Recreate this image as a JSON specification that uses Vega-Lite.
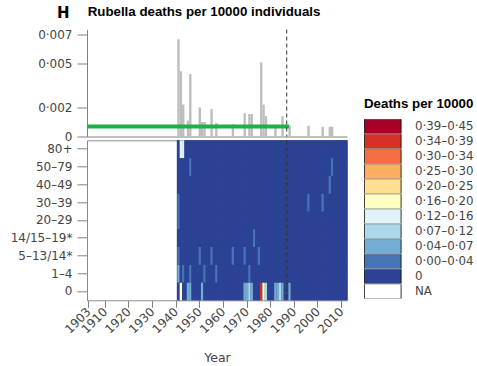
{
  "$schema": "https://vega.github.io/schema/vega-lite/v6.json",
  "padding": {"left": 0, "top": 4.5, "right": 0, "bottom": 0},
  "bounds": "flush",
  "spacing": 3.8,
  "datasets": {
    "bars": [
      {"year": 1941, "rate": 0.0067}, {"year": 1942, "rate": 0.0045}, {"year": 1943, "rate": 0.0022},
      {"year": 1945, "rate": 0.0011}, {"year": 1946, "rate": 0.0043}, {"year": 1950, "rate": 0.0020},
      {"year": 1951, "rate": 0.0010}, {"year": 1952, "rate": 0.0010}, {"year": 1955, "rate": 0.0019},
      {"year": 1957, "rate": 0.00093}, {"year": 1964, "rate": 0.00085}, {"year": 1969, "rate": 0.0016},
      {"year": 1971, "rate": 0.00155}, {"year": 1972, "rate": 0.00155}, {"year": 1976, "rate": 0.0051},
      {"year": 1977, "rate": 0.0022}, {"year": 1978, "rate": 0.0014}, {"year": 1982, "rate": 0.0007},
      {"year": 1985, "rate": 0.0014}, {"year": 1988, "rate": 0.00075}, {"year": 1996, "rate": 0.00074},
      {"year": 2002, "rate": 0.00067}, {"year": 2005, "rate": 0.00067}, {"year": 2006, "rate": 0.00067}
    ],
    "period": [{"from": 1902.5, "to": 1988, "mean": 0.000688}],
    "observed": [{"from": 1940.5, "to": 2012.5}],
    "vacc": [{"year": 1987}],
    "classes": [
      {"code": 10, "label": "0·39–0·45"}, {"code": 9, "label": "0·34–0·39"}, {"code": 8, "label": "0·30–0·34"},
      {"code": 7, "label": "0·25–0·30"}, {"code": 6, "label": "0·20–0·25"}, {"code": 5, "label": "0·16–0·20"},
      {"code": 4, "label": "0·12–0·16"}, {"code": 3, "label": "0·07–0·12"}, {"code": 2, "label": "0·04–0·07"},
      {"code": 1, "label": "0·00–0·04"}, {"code": 0, "label": "0"}, {"code": -1, "label": "NA"}
    ],
    "ages": [
      {"key": "a0", "age": "0"}, {"key": "a1", "age": "1–4"}, {"key": "a5", "age": "5–13/14*"},
      {"key": "a14", "age": "14/15–19*"}, {"key": "a20", "age": "20–29"}, {"key": "a30", "age": "30–39"},
      {"key": "a40", "age": "40–49"}, {"key": "a50", "age": "50–79"}, {"key": "a80", "age": "80+"}
    ],
    "cells": [
      {"year": 1941, "a0": 0, "a1": 2, "a5": 1, "a14": 0, "a20": 1, "a30": 1, "a40": 0, "a50": 0, "a80": 0},
      {"year": 1942, "a0": 5, "a1": 0, "a5": 0, "a14": 0, "a20": 0, "a30": 0, "a40": 0, "a50": 0, "a80": 4},
      {"year": 1943, "a0": 0, "a1": 1, "a5": 0, "a14": 0, "a20": 0, "a30": 0, "a40": 0, "a50": 0, "a80": 4},
      {"year": 1944, "a0": 0, "a1": 0, "a5": 0, "a14": 0, "a20": 0, "a30": 0, "a40": 0, "a50": 0, "a80": 0},
      {"year": 1945, "a0": 2, "a1": 0, "a5": 0, "a14": 0, "a20": 0, "a30": 0, "a40": 0, "a50": 0, "a80": 0},
      {"year": 1946, "a0": 2, "a1": 1, "a5": 0, "a14": 0, "a20": 0, "a30": 0, "a40": 0, "a50": 1, "a80": 0},
      {"year": 1947, "a0": 0, "a1": 0, "a5": 0, "a14": 0, "a20": 0, "a30": 0, "a40": 0, "a50": 0, "a80": 0},
      {"year": 1948, "a0": 0, "a1": 0, "a5": 0, "a14": 0, "a20": 0, "a30": 0, "a40": 0, "a50": 0, "a80": 0},
      {"year": 1949, "a0": 0, "a1": 0, "a5": 0, "a14": 0, "a20": 0, "a30": 0, "a40": 0, "a50": 0, "a80": 0},
      {"year": 1950, "a0": 0, "a1": 0, "a5": 1, "a14": 0, "a20": 0, "a30": 0, "a40": 0, "a50": 0, "a80": 0},
      {"year": 1951, "a0": 2, "a1": 0, "a5": 0, "a14": 0, "a20": 0, "a30": 0, "a40": 0, "a50": 0, "a80": 0},
      {"year": 1952, "a0": 0, "a1": 1, "a5": 0, "a14": 0, "a20": 0, "a30": 0, "a40": 0, "a50": 0, "a80": 0},
      {"year": 1953, "a0": 0, "a1": 0, "a5": 0, "a14": 0, "a20": 0, "a30": 0, "a40": 0, "a50": 0, "a80": 0},
      {"year": 1954, "a0": 0, "a1": 0, "a5": 0, "a14": 0, "a20": 0, "a30": 0, "a40": 0, "a50": 0, "a80": 0},
      {"year": 1955, "a0": 0, "a1": 0, "a5": 1, "a14": 0, "a20": 0, "a30": 0, "a40": 0, "a50": 0, "a80": 0},
      {"year": 1956, "a0": 0, "a1": 0, "a5": 0, "a14": 0, "a20": 0, "a30": 0, "a40": 0, "a50": 0, "a80": 0},
      {"year": 1957, "a0": 0, "a1": 1, "a5": 0, "a14": 0, "a20": 0, "a30": 0, "a40": 0, "a50": 0, "a80": 0},
      {"year": 1958, "a0": 0, "a1": 0, "a5": 0, "a14": 0, "a20": 0, "a30": 0, "a40": 0, "a50": 0, "a80": 0},
      {"year": 1959, "a0": 0, "a1": 0, "a5": 0, "a14": 0, "a20": 0, "a30": 0, "a40": 0, "a50": 0, "a80": 0},
      {"year": 1960, "a0": 0, "a1": 0, "a5": 0, "a14": 0, "a20": 0, "a30": 0, "a40": 0, "a50": 0, "a80": 0},
      {"year": 1961, "a0": 0, "a1": 0, "a5": 0, "a14": 0, "a20": 0, "a30": 0, "a40": 0, "a50": 0, "a80": 0},
      {"year": 1962, "a0": 0, "a1": 0, "a5": 0, "a14": 0, "a20": 0, "a30": 0, "a40": 0, "a50": 0, "a80": 0},
      {"year": 1963, "a0": 0, "a1": 0, "a5": 0, "a14": 0, "a20": 0, "a30": 0, "a40": 0, "a50": 0, "a80": 0},
      {"year": 1964, "a0": 0, "a1": 0, "a5": 1, "a14": 0, "a20": 0, "a30": 0, "a40": 0, "a50": 0, "a80": 0},
      {"year": 1965, "a0": 0, "a1": 0, "a5": 0, "a14": 0, "a20": 0, "a30": 0, "a40": 0, "a50": 0, "a80": 0},
      {"year": 1966, "a0": 0, "a1": 0, "a5": 0, "a14": 0, "a20": 0, "a30": 0, "a40": 0, "a50": 0, "a80": 0},
      {"year": 1967, "a0": 0, "a1": 0, "a5": 0, "a14": 0, "a20": 0, "a30": 0, "a40": 0, "a50": 0, "a80": 0},
      {"year": 1968, "a0": 0, "a1": 0, "a5": 0, "a14": 0, "a20": 0, "a30": 0, "a40": 0, "a50": 0, "a80": 0},
      {"year": 1969, "a0": 2, "a1": 0, "a5": 1, "a14": 0, "a20": 0, "a30": 0, "a40": 0, "a50": 0, "a80": 0},
      {"year": 1970, "a0": 2, "a1": 0, "a5": 0, "a14": 0, "a20": 0, "a30": 0, "a40": 0, "a50": 0, "a80": 0},
      {"year": 1971, "a0": 3, "a1": 1, "a5": 0, "a14": 0, "a20": 0, "a30": 0, "a40": 0, "a50": 0, "a80": 0},
      {"year": 1972, "a0": 2, "a1": 0, "a5": 0, "a14": 0, "a20": 0, "a30": 0, "a40": 0, "a50": 0, "a80": 0},
      {"year": 1973, "a0": 0, "a1": 0, "a5": 0, "a14": 1, "a20": 0, "a30": 0, "a40": 0, "a50": 0, "a80": 0},
      {"year": 1974, "a0": 0, "a1": 0, "a5": 0, "a14": 0, "a20": 0, "a30": 0, "a40": 0, "a50": 0, "a80": 0},
      {"year": 1975, "a0": 0, "a1": 0, "a5": 1, "a14": 0, "a20": 0, "a30": 0, "a40": 0, "a50": 0, "a80": 0},
      {"year": 1976, "a0": 9, "a1": 0, "a5": 0, "a14": 0, "a20": 0, "a30": 0, "a40": 0, "a50": 0, "a80": 0},
      {"year": 1977, "a0": 5, "a1": 0, "a5": 0, "a14": 0, "a20": 0, "a30": 0, "a40": 0, "a50": 0, "a80": 0},
      {"year": 1978, "a0": 3, "a1": 0, "a5": 0, "a14": 0, "a20": 0, "a30": 0, "a40": 0, "a50": 0, "a80": 0},
      {"year": 1979, "a0": 0, "a1": 0, "a5": 0, "a14": 0, "a20": 0, "a30": 0, "a40": 0, "a50": 0, "a80": 0},
      {"year": 1980, "a0": 0, "a1": 0, "a5": 0, "a14": 0, "a20": 0, "a30": 0, "a40": 0, "a50": 0, "a80": 0},
      {"year": 1981, "a0": 0, "a1": 0, "a5": 0, "a14": 0, "a20": 0, "a30": 0, "a40": 0, "a50": 0, "a80": 0},
      {"year": 1982, "a0": 2, "a1": 0, "a5": 0, "a14": 0, "a20": 0, "a30": 0, "a40": 0, "a50": 0, "a80": 0},
      {"year": 1983, "a0": 2, "a1": 0, "a5": 0, "a14": 0, "a20": 0, "a30": 0, "a40": 0, "a50": 0, "a80": 0},
      {"year": 1984, "a0": 3, "a1": 0, "a5": 0, "a14": 0, "a20": 0, "a30": 0, "a40": 0, "a50": 0, "a80": 0},
      {"year": 1985, "a0": 2, "a1": 0, "a5": 0, "a14": 0, "a20": 0, "a30": 0, "a40": 0, "a50": 0, "a80": 0},
      {"year": 1986, "a0": 0, "a1": 0, "a5": 0, "a14": 0, "a20": 0, "a30": 0, "a40": 0, "a50": 0, "a80": 0},
      {"year": 1987, "a0": 0, "a1": 0, "a5": 0, "a14": 0, "a20": 0, "a30": 0, "a40": 0, "a50": 0, "a80": 0},
      {"year": 1988, "a0": 2, "a1": 0, "a5": 0, "a14": 0, "a20": 0, "a30": 0, "a40": 0, "a50": 0, "a80": 0},
      {"year": 1989, "a0": 0, "a1": 0, "a5": 0, "a14": 0, "a20": 0, "a30": 0, "a40": 0, "a50": 0, "a80": 0},
      {"year": 1990, "a0": 0, "a1": 0, "a5": 0, "a14": 0, "a20": 0, "a30": 0, "a40": 0, "a50": 0, "a80": 0},
      {"year": 1991, "a0": 0, "a1": 0, "a5": 0, "a14": 0, "a20": 0, "a30": 0, "a40": 0, "a50": 0, "a80": 0},
      {"year": 1992, "a0": 0, "a1": 0, "a5": 0, "a14": 0, "a20": 0, "a30": 0, "a40": 0, "a50": 0, "a80": 0},
      {"year": 1993, "a0": 0, "a1": 0, "a5": 0, "a14": 0, "a20": 0, "a30": 0, "a40": 0, "a50": 0, "a80": 0},
      {"year": 1994, "a0": 0, "a1": 0, "a5": 0, "a14": 0, "a20": 0, "a30": 0, "a40": 0, "a50": 0, "a80": 0},
      {"year": 1995, "a0": 0, "a1": 0, "a5": 0, "a14": 0, "a20": 0, "a30": 0, "a40": 0, "a50": 0, "a80": 0},
      {"year": 1996, "a0": 0, "a1": 0, "a5": 0, "a14": 0, "a20": 0, "a30": 1, "a40": 0, "a50": 0, "a80": 0},
      {"year": 1997, "a0": 0, "a1": 0, "a5": 0, "a14": 0, "a20": 0, "a30": 0, "a40": 0, "a50": 0, "a80": 0},
      {"year": 1998, "a0": 0, "a1": 0, "a5": 0, "a14": 0, "a20": 0, "a30": 0, "a40": 0, "a50": 0, "a80": 0},
      {"year": 1999, "a0": 0, "a1": 0, "a5": 0, "a14": 0, "a20": 0, "a30": 0, "a40": 0, "a50": 0, "a80": 0},
      {"year": 2000, "a0": 0, "a1": 0, "a5": 0, "a14": 0, "a20": 0, "a30": 0, "a40": 0, "a50": 0, "a80": 0},
      {"year": 2001, "a0": 0, "a1": 0, "a5": 0, "a14": 0, "a20": 0, "a30": 0, "a40": 0, "a50": 0, "a80": 0},
      {"year": 2002, "a0": 0, "a1": 0, "a5": 0, "a14": 0, "a20": 0, "a30": 1, "a40": 0, "a50": 0, "a80": 0},
      {"year": 2003, "a0": 0, "a1": 0, "a5": 0, "a14": 0, "a20": 0, "a30": 0, "a40": 0, "a50": 0, "a80": 0},
      {"year": 2004, "a0": 0, "a1": 0, "a5": 0, "a14": 0, "a20": 0, "a30": 0, "a40": 0, "a50": 0, "a80": 0},
      {"year": 2005, "a0": 0, "a1": 0, "a5": 0, "a14": 0, "a20": 0, "a30": 0, "a40": 1, "a50": 0, "a80": 0},
      {"year": 2006, "a0": 0, "a1": 0, "a5": 0, "a14": 0, "a20": 0, "a30": 0, "a40": 0, "a50": 1, "a80": 0},
      {"year": 2007, "a0": 0, "a1": 0, "a5": 0, "a14": 0, "a20": 0, "a30": 0, "a40": 0, "a50": 0, "a80": 0},
      {"year": 2008, "a0": 0, "a1": 0, "a5": 0, "a14": 0, "a20": 0, "a30": 0, "a40": 0, "a50": 0, "a80": 0},
      {"year": 2009, "a0": 0, "a1": 0, "a5": 0, "a14": 0, "a20": 0, "a30": 0, "a40": 0, "a50": 0, "a80": 0},
      {"year": 2010, "a0": 0, "a1": 0, "a5": 0, "a14": 0, "a20": 0, "a30": 0, "a40": 0, "a50": 0, "a80": 0},
      {"year": 2011, "a0": 0, "a1": 0, "a5": 0, "a14": 0, "a20": 0, "a30": 0, "a40": 0, "a50": 0, "a80": 0},
      {"year": 2012, "a0": 0, "a1": 0, "a5": 0, "a14": 0, "a20": 0, "a30": 0, "a40": 0, "a50": 0, "a80": 0}
    ]
  },
  "vconcat": [
    {
      "width": 260,
      "height": 107,
      "view": {"stroke": null},
      "title": {
        "text": "H",
        "subtitle": "\u200b\u00a0\u00a0\u00a0\u00a0\u00a0\u00a0\u00a0\u00a0\u200aRubella deaths per 10000 individuals",
        "anchor": "start",
        "frame": "group",
        "dx": -30,
        "offset": 6.2,
        "font": "DejaVu Sans",
        "fontSize": 15,
        "fontWeight": "bold",
        "color": "#000",
        "subtitleFont": "Liberation Sans",
        "subtitleFontSize": 13.3,
        "subtitleFontWeight": "bold",
        "subtitleColor": "#000",
        "subtitlePadding": -16.4
      },
      "layer": [
        {
          "data": {"name": "bars"},
          "mark": {"type": "bar", "color": "#bdbdbd", "binSpacing": 0},
          "encoding": {
            "x": {
              "field": "year", "type": "quantitative",
              "bin": {"step": 1, "extent": [1902.5, 2012.5], "nice": false},
              "scale": {"domain": [1902.5, 2012.5], "nice": false, "zero": false},
              "axis": {"labels": false, "ticks": false, "title": null, "domainColor": "#808080", "minExtent": 0, "maxExtent": 0}
            },
            "y": {
              "field": "rate", "type": "quantitative",
              "scale": {"domain": [0, 0.00737], "nice": false},
              "axis": {
                "values": [0, 0.002, 0.005, 0.007],
                "tickCount": 20,
                "labelExpr": "datum.value == 0 ? '0' : replace(format(datum.value, '.3f'), '.', '·')",
                "labelOverlap": false,
                "tickSize": 10, "labelPadding": 5, "title": null,
                "minExtent": 86, "maxExtent": 86
              }
            }
          }
        },
        {
          "data": {"name": "period"},
          "mark": {"type": "rule", "color": "#1fae4a", "strokeWidth": 4, "strokeCap": "butt"},
          "encoding": {
            "x": {"field": "from", "type": "quantitative"},
            "x2": {"field": "to"},
            "y": {"field": "mean", "type": "quantitative"}
          }
        },
        {
          "data": {"name": "vacc"},
          "mark": {"type": "rule", "color": "#333333", "strokeDash": [4, 3], "strokeWidth": 1},
          "encoding": {"x": {"field": "year", "type": "quantitative"}}
        }
      ]
    },
    {
      "width": 260,
      "height": 160,
      "view": {"stroke": "#8a8a8a", "strokeWidth": 1},
      "layer": [
        {
          "data": {"name": "observed"},
          "mark": {"type": "rect", "color": "#2c4294"},
          "encoding": {
            "x": {
              "field": "from", "type": "quantitative",
              "scale": {"domain": [1902.5, 2012.5], "nice": false, "zero": false},
              "axis": {
                "values": [1903, 1910, 1920, 1930, 1940, 1950, 1960, 1970, 1980, 1990, 2000, 2010],
                "tickCount": 30,
                "format": "d", "labelAngle": -45, "labelAlign": "right", "labelBaseline": "middle",
                "labelOverlap": false, "tickSize": 7, "labelPadding": 2,
                "title": "Year", "titlePadding": 16, "domain": false
              }
            },
            "x2": {"field": "to"}
          }
        },
        {
          "data": {"name": "cells"},
          "transform": [
            {"fold": ["a0", "a1", "a5", "a14", "a20", "a30", "a40", "a50", "a80"], "as": ["key", "code"]},
            {"lookup": "key", "from": {"data": {"name": "ages"}, "key": "key", "fields": ["age"]}},
            {"lookup": "code", "from": {"data": {"name": "classes"}, "key": "code", "fields": ["label"]}}
          ],
          "mark": {"type": "rect", "binSpacing": 0},
          "encoding": {
            "x": {
              "field": "year", "type": "quantitative",
              "bin": {"step": 1, "extent": [1902.5, 2012.5], "nice": false},
              "scale": {"domain": [1902.5, 2012.5], "nice": false, "zero": false},
              "axis": {
                "values": [1903, 1910, 1920, 1930, 1940, 1950, 1960, 1970, 1980, 1990, 2000, 2010],
                "tickCount": 30,
                "format": "d", "labelAngle": -45, "labelAlign": "right", "labelBaseline": "middle",
                "labelOverlap": false, "tickSize": 7, "labelPadding": 2,
                "title": "Year", "titlePadding": 16, "domain": false
              }
            },
            "y": {
              "field": "age", "type": "nominal",
              "sort": ["80+", "50–79", "40–49", "30–39", "20–29", "14/15–19*", "5–13/14*", "1–4", "0"],
              "axis": {"title": null, "tickSize": 10, "labelPadding": 5, "domain": false, "labelOverlap": false, "minExtent": 86, "maxExtent": 86}
            },
            "color": {
              "field": "label", "type": "nominal",
              "scale": {
                "domain": ["0·39–0·45", "0·34–0·39", "0·30–0·34", "0·25–0·30", "0·20–0·25", "0·16–0·20", "0·12–0·16", "0·07–0·12", "0·04–0·07", "0·00–0·04", "0", "NA"],
                "range": ["#a50026", "#d73027", "#f46d43", "#fdae61", "#fee090", "#ffffbf", "#e0f3f8", "#abd9e9", "#74add1", "#4575b4", "#2c4294", "#ffffff"]
              },
              "legend": {
                "orient": "none",
                "legendX": 277,
                "legendY": 67.5,
                "title": "Deaths per 10000",
                "titleFont": "Liberation Sans",
                "titleFontSize": 13.3,
                "titleFontWeight": "bold",
                "titleColor": "#000",
                "titlePadding": 9,
                "symbolType": "M-1,-1.065H4.176V1.065H-1Z",
                "symbolSize": 201,
                "symbolStrokeColor": "#000",
                "symbolStrokeWidth": 0.8,
                "clipHeight": 14.1,
                "rowPadding": 0,
                "labelOffset": 36,
                "labelFont": "DejaVu Sans",
                "labelFontSize": 11.8,
                "labelColor": "#444",
                "encode": {"symbols": {"update": {"stroke": {"value": "#000"}, "strokeWidth": {"value": 0.8}, "opacity": {"value": 1}}}}
              }
            }
          }
        },
        {
          "data": {"name": "vacc"},
          "mark": {"type": "rule", "color": "#333333", "strokeDash": [4, 3], "strokeWidth": 1},
          "encoding": {"x": {"field": "year", "type": "quantitative"}}
        }
      ]
    }
  ],
  "config": {
    "font": "DejaVu Sans",
    "axis": {
      "labelFont": "DejaVu Sans", "labelFontSize": 12, "labelColor": "#444",
      "domainColor": "#808080", "tickColor": "#808080", "grid": false,
      "titleFont": "DejaVu Sans", "titleFontSize": 12.5, "titleFontWeight": "normal", "titleColor": "#444"
    }
  }
}
